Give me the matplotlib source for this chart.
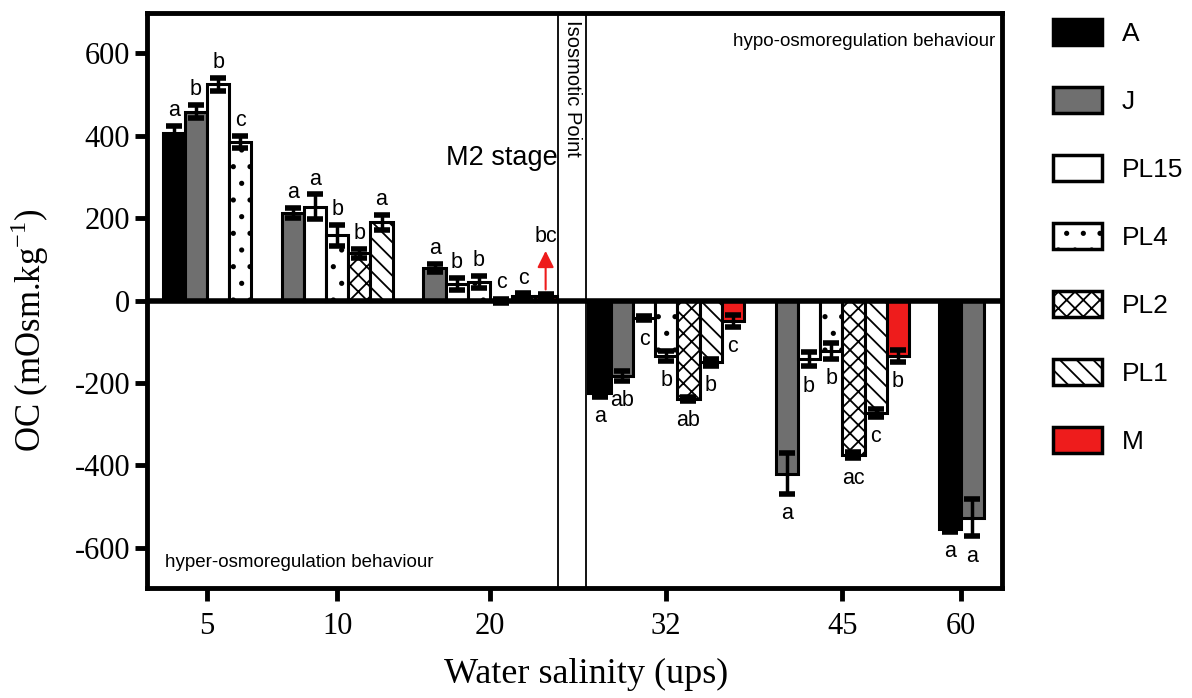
import numpy as np
import matplotlib
matplotlib.use("Agg")
import matplotlib.pyplot as plt
from matplotlib.patches import Patch

plt.rcParams['font.family'] = ['Liberation Sans', 'DejaVu Sans']
plt.rcParams['mathtext.fontset'] = 'custom'
plt.rcParams['mathtext.rm'] = 'Liberation Serif'
plt.rcParams['hatch.linewidth'] = 1.3

nan = np.nan
salinity = ['5', '10', '20', '32', '45', '60']
stages = ['A', 'J', 'PL15', 'PL4', 'PL2', 'PL1', 'M']

A_val = [405, nan, nan, -225, nan, -553]
J_val = [458, 212, 78, -183, -420, -527]
PL15_val = [524, 227, 40, -43, -142, nan]
PL4_val = [385, 158, 45, -135, -122, nan]
PL2_val = [nan, 114, -2, -238, -375, nan]
PL1_val = [nan, 190, 12, -150, -272, nan]
M_val = [nan, nan, 10, -50, -134, nan]

A_err = [17, nan, nan, 8, nan, 8]
J_err = [15, 12, 10, 12, 50, 45]
PL15_err = [15, 30, 15, 5, 18, nan]
PL4_err = [15, 25, 15, 12, 20, nan]
PL2_err = [nan, 10, 5, 5, 8, nan]
PL1_err = [nan, 18, 5, 8, 10, nan]
M_err = [nan, nan, 5, 15, 15, nan]

A_let = ['a', '', '', 'a', '', 'a']
J_let = ['b', 'a', 'a', 'ab', 'a', 'a']
PL15_let = ['b', 'a', 'b', 'c', 'b', '']
PL4_let = ['c', 'b', 'b', 'b', 'b', '']
PL2_let = ['', 'b', 'c', 'ab', 'ac', '']
PL1_let = ['', 'a', 'c', 'b', 'c', '']
M_let = ['', '', 'bc', 'c', 'b', '']

values = [A_val, J_val, PL15_val, PL4_val, PL2_val, PL1_val, M_val]
errors = [A_err, J_err, PL15_err, PL4_err, PL2_err, PL1_err, M_err]
letters = [A_let, J_let, PL15_let, PL4_let, PL2_let, PL1_let, M_let]

# styles
faces = ['black', '#6f6f6f', 'white', 'white', 'white', 'white', '#ee1c1c']
hatches = [None, None, None, '.', 'xx', '\\\\', None]

# layout (x in bar-slot units)
group_centres = [2.70, 8.56, 15.45, 23.38, 31.31, 36.67]
iso_lines = [18.51, 19.77]
bw = 1.0

fig = plt.figure(figsize=(11.92, 6.98), dpi=100)
ax = fig.add_axes([147/1192, 1-588/698, 855/1192, 575/698])
ax.set_xlim(0, 38.5)
ax.set_ylim(-697, 697)

lfs = 15.5
for g, xc in enumerate(group_centres):
    present = [s for s in range(len(stages)) if not np.isnan(values[s][g])]
    n = len(present)
    for k, s in enumerate(present):
        x = xc + (k - (n - 1) / 2) * bw
        v = values[s][g]
        e = errors[s][g]
        ax.bar(x, v, width=bw, color=faces[s], edgecolor='black', linewidth=2.2,
               hatch=hatches[s], zorder=2)
        ax.errorbar(x, v, yerr=e, fmt='none', ecolor='black', elinewidth=2.5,
                    capsize=6, capthick=4, zorder=3)
        lab = letters[s][g]
        if stages[s] == 'M' and salinity[g] == '20':
            ax.annotate('', xy=(x, 127), xytext=(x, v + e + 5),
                        arrowprops=dict(arrowstyle='-|>', color='#ee1c1c', lw=1.5,
                                        mutation_scale=25), zorder=4)
            ax.text(x, 130, lab, ha='center', va='bottom', fontsize=lfs)
        elif lab:
            if v > -20:
                ax.text(x, max(v, 0) + e + 12, lab, ha='center', va='bottom', fontsize=lfs)
            else:
                ax.text(x, v - e - 22, lab, ha='center', va='top', fontsize=lfs)

ax.axhline(0, color='black', lw=4, zorder=5)
for xl in iso_lines:
    ax.axvline(xl, color='black', lw=1.3, zorder=1)

ax.text(sum(iso_lines) / 2, 680, 'Isosmotic Point', rotation=270, ha='center', va='top',
        fontsize=14.5)
ax.text(15.99, 345, 'M2 stage', ha='center', va='center', fontsize=19.5)
ax.text(38.2, 628, 'hypo-osmoregulation behaviour', ha='right', va='center', fontsize=13.5)
ax.text(0.8, -635, 'hyper-osmoregulation behaviour', ha='left', va='center', fontsize=13.5)

ax.set_xticks(group_centres)
ax.set_xticklabels(salinity, fontsize=22, family='Liberation Serif')
ax.set_yticks([600, 400, 200, 0, -200, -400, -600])
ax.set_yticklabels(['600', '400', '200', '0', '-200', '-400', '-600'], fontsize=22,
                   family='Liberation Serif')
ax.tick_params(axis='both', direction='out', length=9, width=3.5, pad=3)
ax.tick_params(axis='x', pad=8)
for sp in ax.spines.values():
    sp.set_linewidth(3.5)

ax.set_xlabel('Water salinity (ups)', fontsize=26, family='Liberation Serif')
ax.xaxis.set_label_coords((586 - 147) / 855, -(658 - 588) / 575)
ax.set_ylabel('OC (mOsm.kg$^{-1}$)', fontsize=25, family='Liberation Serif')
ax.yaxis.set_label_coords((51 - 147) / 855, 1 - (330 - 13) / 575)

handles = [Patch(facecolor=faces[s], edgecolor='black', linewidth=2.5, hatch=hatches[s])
           for s in range(len(stages))]
fig.legend(handles, stages, loc='upper left', bbox_to_anchor=(1053/1192, 1-19/698),
           frameon=False, fontsize=19, handlelength=1.85, handleheight=1.15,
           labelspacing=1.55, handletextpad=0.75, borderpad=0, borderaxespad=0)

fig.savefig('out.png', dpi=100)
